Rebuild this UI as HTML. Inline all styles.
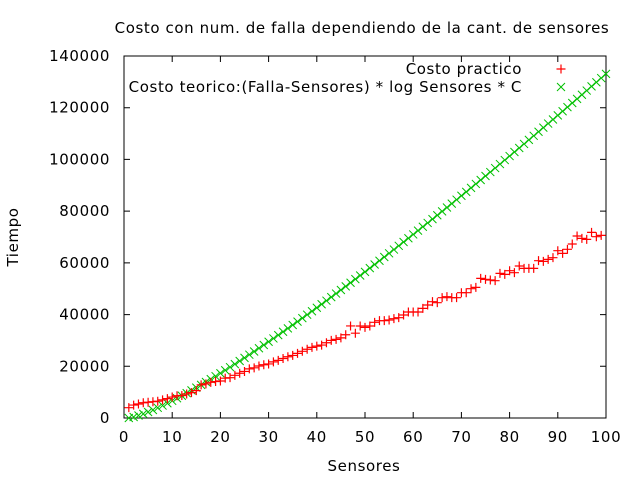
<!DOCTYPE html>
<html><head><meta charset="utf-8"><style>
html,body{margin:0;padding:0;background:#fff;}
svg{display:block;font-family:"DejaVu Sans","Liberation Sans",sans-serif;}
text{letter-spacing:0.6px;}
</style></head><body>
<svg id="chart" width="640" height="480">
<text x="362" y="33" font-size="15" text-anchor="middle">Costo con num. de falla dependiendo de la cant. de sensores</text>
<text x="18" y="237" font-size="15" text-anchor="middle" transform="rotate(-90 18 237)">Tiempo</text>
<text x="364" y="471" font-size="15" text-anchor="middle">Sensores</text>
<rect x="124" y="56" width="482" height="362" fill="none" stroke="#000" stroke-width="1"/>
<g id="axes"></g>
<g id="marks"></g>
<text x="522" y="74" font-size="15" text-anchor="end">Costo practico</text>
<text x="522" y="92" font-size="15" text-anchor="end">Costo teorico:(Falla-Sensores) * log Sensores * C</text>
<g id="legend"></g>
</svg>
<script>
const xTicks=[0,10,20,30,40,50,60,70,80,90,100];
const yTicks=[0,20000,40000,60000,80000,100000,120000,140000];
const practico=[3990,5000,5400,5900,6100,6300,6500,7000,7500,8100,8600,8700,9300,9800,10600,12800,13200,13800,14100,14300,15400,15600,16500,17300,18000,19000,19400,20100,20600,20900,21700,22300,23000,23700,24200,25000,25800,26600,27300,27800,28200,29100,30000,30400,31000,32200,35600,32800,
35580,35060,35580,37000,37640,37640,37900,38410,38800,39830,40990,40990,40990,42410,43700,44990,44600,46530,46920,46530,46530,48460,48460,50010,50530,54010,53620,53360,53110,55940,55550,56970,56200,58780,57860,57860,57860,60840,60580,61360,62000,64700,63680,65230,67290,70380,69480,69090,71800,70120,70640];
const teorico=[0,401,953,1603,2326,3107,3937,4808,5715,6654,7623,8618,9636,10678,11740,12820,13920,15036,16168,17315,18477,19653,20842,22043,23257,24482,25718,26965,28222,29489,30765,32051,33346,34650,35962,37284,38611,39948,41293,42645,44003,45368,46740,48121,49506,50898,52297,53702,55112,56528,57950,59378,60814,62253,63696,65146,66600,68062,69528,70996,72472,73949,75435,76923,78414,79914,81414,82923,84431,85949,87466,88989,90515,92047,93581,95119,96662,98208,99757,101309,102870,104430,105994,107563,109135,110707,112285,113869,115453,117039,118632,120224,121822,123423,125024,126631,128241,129853,131469,133090];
const NS='http://www.w3.org/2000/svg';
const X0=124,X1=606,Y0=418,Y1=56;
function sx(v){return X0+(v-0)/(100-0)*(X1-X0);}
function sy(v){return Y0-(v-0)/(140000-0)*(Y0-Y1);}
function mk(tag,attrs,parent){const e=document.createElementNS(NS,tag);for(const k in attrs)e.setAttribute(k,attrs[k]);parent.appendChild(e);return e;}
const axes=document.getElementById('axes');
xTicks.forEach(t=>{
  const x=sx(t);
  const l=mk('path',{d:`M${x},${Y0}v-6M${x},${Y1}v6`,stroke:'#000','stroke-width':1},axes);
  
  
  const tx=mk('text',{x:x,y:Y0+24,'font-size':15,'text-anchor':'middle'},axes);
  tx.textContent=t;
  
  
});
yTicks.forEach(t=>{
  const y=sy(t);
  const l=mk('path',{d:`M${X0},${y}h6M${X1},${y}h-6`,stroke:'#000','stroke-width':1},axes);
  
  
  const tx=mk('text',{x:X0-14,y:y+5,'font-size':15,'text-anchor':'end'},axes);
  tx.textContent=t;
  
  
});
const marks=document.getElementById('marks');
function plus(x,y,p){return mk('path',{d:`M${x-4.5},${y}h9M${x},${y-4.5}v9`,stroke:'#f00','stroke-width':1.2,fill:'none'},p);}
function cross(x,y,p){return mk('path',{d:`M${x-4},${y-4}l8,8M${x-4},${y+4}l8,-8`,stroke:'#00c000','stroke-width':1,fill:'none'},p);}
teorico.forEach((v,i)=>{
  const e=cross(sx(i+1),sy(v),marks);
  
  
});
practico.forEach((v,i)=>{
  const e=plus(sx(i+1),sy(v),marks);
  
  
});
const lg=document.getElementById('legend');
const l1=plus(561,69,lg);


const l2=cross(561,87,lg);


</script>
</body></html>
